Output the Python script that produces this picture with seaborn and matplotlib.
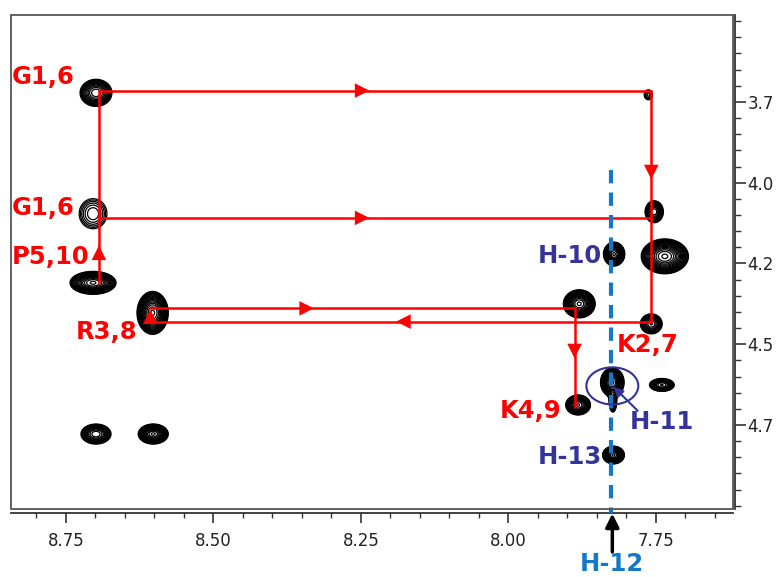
import numpy as np
import pandas as pd
import matplotlib
matplotlib.use("Agg")
import matplotlib.pyplot as plt
from matplotlib.patches import Ellipse, Rectangle
import seaborn as sns

# ── cross peaks (1H ppm) ─────────────────────────────────────────────────────
peak_x   = [8.699, 7.763, 8.704, 7.753, 7.821, 7.735, 8.704, 8.603, 7.880,
            7.758, 7.824, 7.823, 7.740, 7.882, 7.822, 8.699, 8.602]
peak_y   = [3.722, 3.728, 4.096, 4.090, 4.221, 4.228, 4.310, 4.403, 4.375,
            4.437, 4.618, 4.680, 4.626, 4.688, 4.843, 4.778, 4.778]
peak_wx  = [0.054, 0.014, 0.047, 0.031, 0.036, 0.080, 0.078, 0.053, 0.054,
            0.037, 0.040, 0.012, 0.042, 0.042, 0.037, 0.051, 0.051]
peak_wy  = [0.084, 0.031, 0.093, 0.068, 0.074, 0.108, 0.071, 0.133, 0.087,
            0.062, 0.090, 0.060, 0.040, 0.062, 0.055, 0.062, 0.062]
peak_amp = [0.60, 0.25, 0.30, 0.60, 1.0, 1.0, 1.0, 1.0, 1.0,
            0.55, 1.0, 0.6, 0.55, 0.7, 1.0, 0.6, 1.0]

# sequential walk (red), one entry per segment
walk_x = [[8.694, 7.758], [7.758, 7.758], [8.694, 7.758], [8.694, 8.694],
          [8.607, 7.888], [7.888, 7.888], [7.758, 8.607]]
walk_y = [[3.715, 3.715], [3.715, 4.430], [4.109, 4.109], [4.310, 3.715],
          [4.389, 4.389], [4.389, 4.695], [4.430, 4.430]]

head_x   = [8.248, 7.758, 8.248, 8.694, 8.342, 7.888, 8.178, 8.607]
head_y   = [3.715, 3.967, 4.109, 4.217, 4.389, 4.521, 4.430, 4.415]
head_dir = [">", "v", ">", "^", ">", "v", "<", "^"]

# residue labels
res_text = ["G1,6", "G1,6", "P5,10", "R3,8", "K2,7", "K4,9"]
res_x    = [8.841, 8.841, 8.841, 8.733, 7.817, 8.014]
res_y    = [3.673, 4.078, 4.231, 4.461, 4.502, 4.708]

# proton labels
h_text = ["H-10", "H-11", "H-13"]
h_x    = [7.842, 7.794, 7.841]
h_y    = [4.227, 4.740, 4.849]
h_ha   = ["right", "left", "right"]

h12_x = 7.827

x_major = [8.75, 8.50, 8.25, 8.00, 7.75]
x_labels = ["8.75", "8.50", "8.25", "8.00", "7.75"]
y_major = [3.75, 4.00, 4.25, 4.50, 4.75]
y_labels = ["3.7", "4.0", "4.2", "4.5", "4.7"]

RED = "#ff0000"
NAVY = "#333399"
BLUE = "#1478c8"

sns.set_theme(style="white")
plt.rcParams["font.family"] = ["DejaVu Sans"]

fig = plt.figure(figsize=(7.76, 5.77), dpi=100)
ax = fig.add_axes([0.0142, 0.1173, 0.9300, 0.8567])
ax.set_xlim(8.843, 7.620)
ax.set_ylim(5.011, 3.481)

# ── contour map ─────────────────────────────────────────────────────────────
base = 0.15
gx = np.linspace(7.60, 8.86, 1300)
gy = np.linspace(3.46, 5.03, 900)
X, Y = np.meshgrid(gx, gy)
Z = np.zeros_like(X)
for x0, y0, wx, wy, a in zip(peak_x, peak_y, peak_wx, peak_wy, peak_amp):
    k = np.sqrt(2 * np.log(a / base))
    sx, sy = wx / 2 / k, wy / 2 / k
    Z += a * np.exp(-((X - x0) ** 2 / (2 * sx ** 2) + (Y - y0) ** 2 / (2 * sy ** 2)))
ax.contour(X, Y, Z, levels=np.geomspace(base, 0.97, 17), colors="black",
           linewidths=0.9, zorder=2)

# ── sequential walk ─────────────────────────────────────────────────────────
walk = pd.DataFrame(
    [(i, x, y) for i, (xs, ys) in enumerate(zip(walk_x, walk_y)) for x, y in zip(xs, ys)],
    columns=["seg", "x", "y"],
)
sns.lineplot(data=walk, x="x", y="y", units="seg", estimator=None, sort=False,
             color=RED, lw=1.8, ax=ax, zorder=3)
heads = pd.DataFrame({"x": head_x, "y": head_y, "dir": head_dir})
sns.scatterplot(data=heads, x="x", y="y", style="dir",
                markers={d: d for d in set(head_dir)}, color=RED, s=110,
                linewidth=0, legend=False, ax=ax, zorder=4)

for t, x, y in zip(res_text, res_x, res_y):
    ax.text(x, y, t, color=RED, fontsize=17.5, fontweight="bold",
            ha="left", va="center", zorder=5)

# ── H-12 trace and proton labels ───────────────────────────────────────────
ax.plot([h12_x, h12_x], [3.962, 5.022], color=BLUE, lw=3, ls=(0, (3.2, 2.2)),
        clip_on=False, zorder=4)
ax.annotate("", xy=(7.824, 5.024), xytext=(7.824, 5.143), annotation_clip=False,
            arrowprops=dict(arrowstyle="-|>", color="black", lw=2.5,
                            mutation_scale=20, shrinkA=0, shrinkB=0))
ax.text(7.824, 5.180, "H-12", color=BLUE, fontsize=17.5, fontweight="bold",
        ha="center", va="center", clip_on=False)

for t, x, y, ha in zip(h_text, h_x, h_y, h_ha):
    ax.text(x, y, t, color=NAVY, fontsize=17.5, fontweight="bold",
            ha=ha, va="center", zorder=5)

ax.add_patch(Ellipse((7.824, 4.629), 0.088, 0.115, fill=False, ec=NAVY,
                     lw=1.5, zorder=5))
ax.annotate("", xy=(7.822, 4.632), xytext=(7.781, 4.706),
            arrowprops=dict(arrowstyle="-|>", color=NAVY, lw=1.5,
                            mutation_scale=14, shrinkA=0, shrinkB=0), zorder=5)

# ── frame and axes ─────────────────────────────────────────────────────────
ax.add_patch(Rectangle((0, 0), 1, 1, transform=ax.transAxes, fill=False,
                       ec="#555555", lw=1.3, clip_on=False, zorder=6))
for s in ["top", "left"]:
    ax.spines[s].set_visible(False)
for s in ["bottom", "right"]:
    ax.spines[s].set_visible(True)
    ax.spines[s].set_color("#333333")
    ax.spines[s].set_linewidth(1.3)
ax.spines["bottom"].set_position(("outward", 3))
ax.spines["right"].set_position(("outward", 2))

ax.set_xticks(x_major)
ax.set_xticklabels(x_labels)
ax.set_xticks(np.arange(7.65, 8.84, 0.05), minor=True)
ax.yaxis.tick_right()
ax.set_yticks(y_major)
ax.set_yticklabels(y_labels)
ax.set_yticks(np.arange(3.50, 5.01, 0.05), minor=True)

ax.tick_params(axis="x", which="major", direction="out", length=7, width=1.2,
               color="#333333", pad=6, labelsize=12, labelcolor="#222222",
               bottom=True)
ax.tick_params(axis="x", which="minor", direction="out", length=3.5, width=1.0,
               color="#333333", bottom=True)
ax.tick_params(axis="y", which="major", direction="out", length=8, width=1.2,
               color="#333333", pad=0.5, labelsize=12, labelcolor="#222222",
               right=True, left=False, labelright=True, labelleft=False)
ax.tick_params(axis="y", which="minor", direction="out", length=4, width=1.0,
               color="#333333", right=True, left=False)
ax.set_xlabel("")
ax.set_ylabel("")
ax.grid(False)

fig.savefig("out.png", dpi=100)
